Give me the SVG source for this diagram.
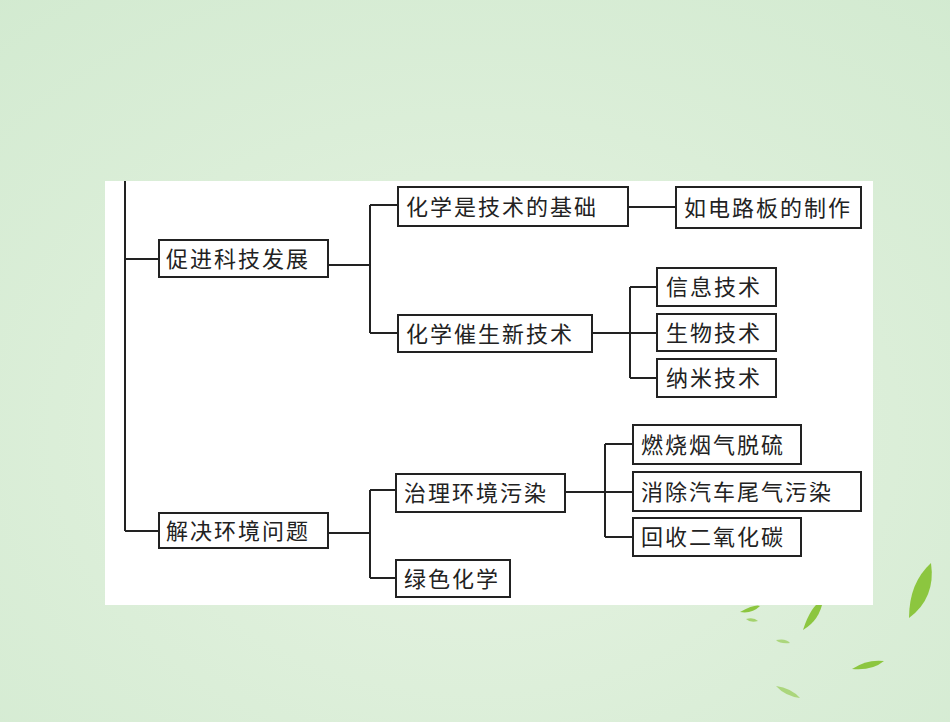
<svg xmlns="http://www.w3.org/2000/svg" width="950" height="722" viewBox="0 0 950 722">
<style>
.b{fill:#fff;stroke:#222;stroke-width:2}
.t{font-family:"Noto Sans CJK SC",sans-serif;font-size:22px;fill:#222;letter-spacing:2px}
.c{fill:none;stroke:#222;stroke-width:2}
.lf{fill:#8cc63f}
</style>
<defs><radialGradient id="bg" cx="0.5" cy="0.6" r="0.8"><stop offset="0" stop-color="#e6f3e2"/><stop offset="1" stop-color="#d2ead0"/></radialGradient></defs>
<rect width="950" height="722" fill="url(#bg)"/>
<g id="leaves">
<path class="lf" d="M740 612 q15 -8 20 -6 q-8 8 -20 6z"/>
<path class="lf" d="M746 619 q8 -2 12 2 q-8 2 -12 -2z" opacity="0.7"/>
<path class="lf" d="M803 630 q8 -25 20 -30 q-3 20 -20 30z"/>
<path class="lf" d="M909 618 q0 -35 22 -55 q5 35 -22 55z"/>
<path class="lf" d="M852 669 q15 -10 32 -8 q-12 10 -32 8z"/>
<path class="lf" d="M776 640 q10 -2 14 3 q-10 1 -14 -3z" opacity="0.6"/>
<path class="lf" d="M776 686 q15 2 24 12 q-15 -2 -24 -12z" opacity="0.6"/>
</g>
<rect x="105" y="181" width="768" height="424" fill="#fff"/>
<g id="connectors" class="c">
<path d="M125 181V531M125 259H159M125 531H159"/>
<path d="M328 265H370M370 205V333M370 205H398M370 333H398M628 207H676"/>
<path d="M592 333H630M630 287V378M630 287H657M630 333H657M630 378H657"/>
<path d="M328 533H370M370 490V578M370 490H396M370 578H396"/>
<path d="M565 492H605M605 444V537M605 444H633M605 492H633M605 537H633"/>
</g>
<g id="n1"><rect class="b" x="159" y="240" width="169" height="37"/><text class="t" x="166" y="267">促进科技发展</text></g>
<g id="n2"><rect class="b" x="398" y="187" width="230" height="39"/><text class="t" x="406" y="215">化学是技术的基础</text></g>
<g id="n3"><rect class="b" x="676" y="187" width="185" height="41"/><text class="t" x="684" y="216">如电路板的制作</text></g>
<g id="n4"><rect class="b" x="398" y="315" width="194" height="37"/><text class="t" x="406" y="342">化学催生新技术</text></g>
<g id="n5"><rect class="b" x="657" y="268" width="119" height="38"/><text class="t" x="666" y="295">信息技术</text></g>
<g id="n6"><rect class="b" x="657" y="314" width="119" height="37"/><text class="t" x="666" y="341">生物技术</text></g>
<g id="n7"><rect class="b" x="657" y="359" width="119" height="38"/><text class="t" x="666" y="386">纳米技术</text></g>
<g id="n8"><rect class="b" x="159" y="513" width="169" height="35"/><text class="t" x="166" y="539">解决环境问题</text></g>
<g id="n9"><rect class="b" x="396" y="474" width="169" height="38"/><text class="t" x="404" y="501">治理环境污染</text></g>
<g id="n10"><rect class="b" x="396" y="560" width="114" height="37"/><text class="t" x="404" y="587">绿色化学</text></g>
<g id="n11"><rect class="b" x="633" y="425" width="168" height="39"/><text class="t" x="641" y="453">燃烧烟气脱硫</text></g>
<g id="n12"><rect class="b" x="633" y="472" width="228" height="39"/><text class="t" x="641" y="500">消除汽车尾气污染</text></g>
<g id="n13"><rect class="b" x="633" y="518" width="168" height="38"/><text class="t" x="641" y="545">回收二氧化碳</text></g>
</svg>
